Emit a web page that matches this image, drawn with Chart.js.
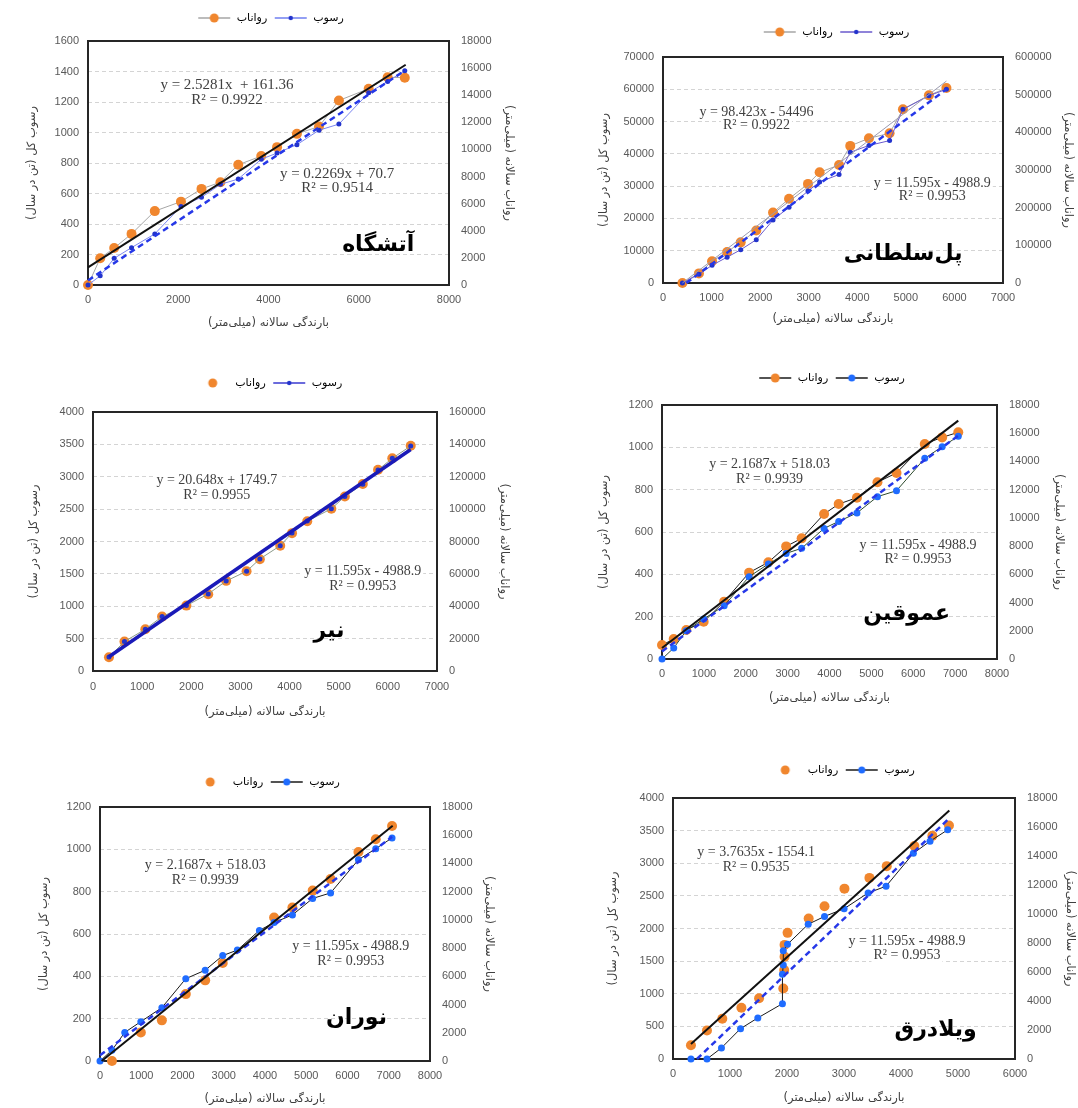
<!DOCTYPE html>
<html>
<head>
<meta charset="utf-8">
<script src="https://cdn.jsdelivr.net/npm/chart.js@4.4.1/dist/chart.umd.min.js"></script>
<style>
  body { margin: 0; background: #fff; width: 1078px; height: 1108px; position: relative; overflow: hidden; }
  canvas { position: absolute; }
</style>
</head>
<body>
<script>
// ---- data ----
// آتشگاه
const rainAtashgah = [0, 270, 580, 965, 1480, 2060, 2515, 2935, 3330, 3840, 4190, 4630, 5120, 5560, 6220, 6640, 7020];
const runoffAtashgah = [0, 1970, 2730, 3770, 5450, 6150, 7090, 7580, 8870, 9510, 10170, 11150, 11690, 13610, 14480, 15330, 15290];
const sedimentAtashgah = [0, 60, 175, 245, 335, 515, 575, 660, 695, 825, 865, 920, 1015, 1055, 1260, 1335, 1405];
const runoffTrendAtashgahX = [0, 7040];
const runoffTrendAtashgahY = [1300, 16250];
const sedimentTrendAtashgahX = [0, 7040];
const sedimentTrendAtashgahY = [30, 1410];

// پل‌سلطانی
const rainPol = [400, 740, 1010, 1320, 1600, 1920, 2265, 2595, 2985, 3225, 3625, 3855, 4240, 4665, 4940, 5475, 5835];
const runoffPol = [0, 25500, 57900, 82500, 107900, 139500, 186900, 223700, 263100, 293900, 313200, 364000, 384200, 397400, 461400, 498200, 517500];
const sedimentPol = [0, 2700, 5500, 8000, 10300, 13400, 19500, 23500, 28500, 31300, 33600, 40500, 42600, 44100, 53800, 58000, 60000];
const runoffTrendPolX = [400, 5835];
const runoffTrendPolY = [0, 536000];
const sedimentTrendPolX = [480, 5835];
const sedimentTrendPolY = [0, 60000];

// نیر
const rainNir = [325, 640, 1065, 1405, 1900, 2345, 2710, 3125, 3395, 3810, 4050, 4360, 4850, 5125, 5490, 5800, 6090, 6465];
const runoffNir = [8440, 18160, 25760, 33600, 40400, 47440, 55680, 61640, 69080, 77320, 85160, 92560, 100200, 107840, 115480, 124320, 131360, 139160];
const sedimentNir = [215, 455, 645, 840, 1010, 1190, 1390, 1540, 1730, 1935, 2130, 2315, 2505, 2695, 2885, 3105, 3285, 3475];
const sedimentTrendNirX = [325, 6465];
const sedimentTrendNirY = [220, 3420];

// عموقین
const rainAmughin = [0, 280, 580, 995, 1485, 2080, 2540, 2965, 3335, 3870, 4220, 4655, 5145, 5600, 6275, 6690, 7075];
const runoffAmughin = [990, 1410, 2055, 2640, 4065, 6120, 6855, 7980, 8550, 10275, 10980, 11430, 12525, 13185, 15240, 15705, 16065];
const sedimentAmughin = [0, 52, 134, 189, 252, 389, 449, 499, 523, 617, 650, 690, 767, 795, 948, 1003, 1052];
const runoffTrendAmughinX = [0, 7075];
const runoffTrendAmughinY = [780, 16890];
const sedimentTrendAmughinX = [0, 7075];
const sedimentTrendAmughinY = [36, 1055];

// نوران
const rainNuran = [0, 290, 600, 990, 1500, 2080, 2550, 2975, 3330, 3865, 4220, 4665, 5155, 5590, 6265, 6685, 7080];
const sedimentNuran = [0, 51, 135, 186, 252, 389, 429, 498, 524, 617, 654, 690, 768, 794, 951, 1003, 1054];
const rainNuranRunoff = [290, 990, 1500, 2080, 2550, 2975, 4220, 4665, 5155, 5590, 6265, 6685, 7080];
const runoffNuran = [0, 2025, 2880, 4740, 5715, 6945, 10170, 10875, 12075, 12900, 14805, 15720, 16650];
const runoffTrendNuranX = [40, 7095];
const runoffTrendNuranY = [0, 16665];
const sedimentTrendNuranX = [0, 7080];
const sedimentTrendNuranY = [27, 1059];

// ویلادرق
const rainViladareqRunoff = [315, 596, 865, 1200, 1510, 1935, 1951, 1957, 1957, 2010, 2380, 2658, 3008, 3446, 3750, 4235, 4550, 4842];
const runoffViladareq = [950, 1960, 2770, 3530, 4190, 4860, 6140, 7060, 7870, 8700, 9690, 10530, 11750, 12490, 13300, 14690, 15390, 16100];
const rainViladareqSediment = [315, 596, 850, 1185, 1488, 1920, 1920, 1935, 1935, 2009, 2372, 2658, 3002, 3423, 3738, 4217, 4509, 4819];
const sedimentViladareq = [0, 0, 170, 465, 630, 848, 1300, 1440, 1658, 1758, 2065, 2185, 2303, 2545, 2648, 3152, 3337, 3512];
const runoffTrendViladareqX = [315, 4848];
const runoffTrendViladareqY = [1040, 17145];
const sedimentTrendViladareqX = [420, 4830];
const sedimentTrendViladareqY = [0, 3676];

const seriesNames = ['رواناب', 'رسوب'];
const rlm = s => '\u200F' + s + '\u200F';
const leftTitle = rlm('رسوب کل (تن در سال)');
const rightTitle = rlm('رواناب سالانه (میلی\u200Cمتر)');
const bottomTitle = rlm('بارندگی سالانه (میلی\u200Cمتر)');

const ORANGE = '#F0862E';
const pts = (xs, ys) => xs.map((x, i) => ({ x: x, y: ys[i] }));

function legendIcon(lineColor, dotColor, r) {
  const c = document.createElement('canvas');
  c.width = 34; c.height = 12;
  const g = c.getContext('2d');
  if (lineColor) {
    g.strokeStyle = lineColor; g.lineWidth = 1.5;
    g.beginPath(); g.moveTo(1, 6); g.lineTo(33, 6); g.stroke();
  }
  g.fillStyle = dotColor;
  g.beginPath(); g.arc(17, 6, r, 0, Math.PI * 2); g.fill();
  return c;
}

// chart frame + equation texts under the data, station name on top
const decor = {
  id: 'decor',
  afterInit(chart, args, opts) {
    const lg = chart.legend;
    if (lg) {
      const f = lg.fit.bind(lg);
      lg.fit = function () { f(); this.height = opts.legendHeight; };
    }
  },
  beforeDatasetsDraw(chart, args, opts) {
    const a = chart.chartArea, ctx = chart.ctx;
    ctx.save();
    ctx.strokeStyle = '#262626'; ctx.lineWidth = 2;
    ctx.strokeRect(a.left, a.top, a.right - a.left, a.bottom - a.top);
    ctx.font = opts.eqFont;
    ctx.textAlign = 'center'; ctx.textBaseline = 'middle';
    opts.eq.forEach(e => {
      const x = a.left + e[1] * (a.right - a.left), y = a.top + e[2] * (a.bottom - a.top);
      const w = ctx.measureText(e[0]).width;
      ctx.fillStyle = '#fff';
      ctx.fillRect(x - w / 2 - 2, y - 8, w + 4, 16);
      ctx.fillStyle = '#404040';
      ctx.fillText(e[0], x, y);
    });
    ctx.restore();
  },
  afterDraw(chart, args, opts) {
    const a = chart.chartArea, ctx = chart.ctx;
    ctx.save();
    ctx.font = 'bold 22px "DejaVu Sans"';
    ctx.fillStyle = '#000';
    ctx.textAlign = 'center'; ctx.textBaseline = 'middle';
    ctx.fillText(opts.name, a.left + opts.namePos[0] * (a.right - a.left), a.top + opts.namePos[1] * (a.bottom - a.top));
    ctx.restore();
  }
};

function makePanel(p) {
  const m = p.margin;
  const cv = document.createElement('canvas');
  const w = p.area.r - p.area.l + m.left + m.right;
  const h = p.area.b - p.area.t + m.top + m.bottom;
  cv.width = w; cv.height = h;
  cv.style.left = (p.area.l - m.left) + 'px';
  cv.style.top = (p.area.t - m.top) + 'px';
  document.body.appendChild(cv);

  const tickFont = { family: 'Liberation Sans', size: 11 };
  const titleFont = { family: 'DejaVu Sans', size: 11.5 };
  const icons = p.legendIcons;

  new Chart(cv, {
    type: 'scatter',
    data: { datasets: p.datasets },
    options: {
      responsive: false,
      animation: false,
      devicePixelRatio: 1,
      layout: { padding: 0 },
      plugins: {
        tooltip: { enabled: false },
        legend: {
          position: 'top',
          labels: {
            usePointStyle: true,
            pointStyleWidth: 34,
            padding: 6.5,
            font: { family: 'DejaVu Sans', size: 11 },
            color: '#595959',
            generateLabels: () => seriesNames.map((t, i) => ({
              text: t, pointStyle: icons[i], fillStyle: 'transparent',
              strokeStyle: 'transparent', lineWidth: 0, hidden: false, datasetIndex: i
            }))
          }
        },
        decor: { legendHeight: m.top, eq: p.eq, eqFont: p.eqFont || '14px "Liberation Serif"', name: p.name, namePos: p.namePos }
      },
      scales: {
        x: {
          type: 'linear', position: 'bottom', min: 0, max: p.x[0],
          afterFit: s => { s.height = m.bottom; },
          grid: { display: false, drawTicks: false },
          border: { display: false },
          ticks: { stepSize: p.x[1], padding: p.xTickPad || 8, color: '#595959', font: tickFont, maxRotation: 0, autoSkip: false, callback: v => String(v) },
          title: { display: true, text: bottomTitle, color: '#404040', font: titleFont, padding: { top: 0, bottom: 1 } }
        },
        y: {
          type: 'linear', position: 'left', min: 0, max: p.y[0],
          afterFit: s => { s.width = m.left; },
          grid: { color: '#d4d4d4', drawTicks: false },
          border: { display: false, dash: [4, 3] },
          ticks: { stepSize: p.y[1], padding: 9, color: '#595959', font: tickFont, callback: v => String(v) },
          title: { display: true, text: leftTitle, color: '#404040', font: titleFont, padding: { top: 1, bottom: 0 } }
        },
        y1: {
          type: 'linear', position: 'right', min: 0, max: p.y1[0],
          afterFit: s => { s.width = m.right; },
          grid: { display: false, drawTicks: false },
          border: { display: false },
          ticks: { stepSize: p.y1[1], padding: 12, color: '#595959', font: tickFont, callback: v => String(v) },
          title: { display: true, text: rightTitle, color: '#404040', font: titleFont, padding: { top: 1, bottom: 0 } }
        }
      }
    },
    plugins: [decor]
  });
}

// dataset helpers
const runoffSet = (xs, ys, line) => ({
  data: pts(xs, ys), yAxisID: 'y1', showLine: !!line, borderColor: line || ORANGE, borderWidth: 1,
  pointRadius: 5, pointBackgroundColor: ORANGE, pointBorderColor: ORANGE, pointBorderWidth: 0, clip: false, order: 3
});
const sedimentSet = (xs, ys, dot, r, line) => ({
  data: pts(xs, ys), yAxisID: 'y', showLine: !!line, borderColor: line || dot, borderWidth: 1,
  pointRadius: r, pointBackgroundColor: dot, pointBorderColor: dot, pointBorderWidth: 0, clip: false, order: 2
});
const trendSet = (xs, ys, axis, color, width, dash) => ({
  data: pts(xs, ys), yAxisID: axis, showLine: true, borderColor: color, borderWidth: width,
  borderDash: dash || [], pointRadius: 0, clip: false, order: 1
});

const DASH_BLUE = '#2638e8';
const DOT_BLUE = '#1f6cff';
const dashed = [6, 4];

const panels = [
  {
    name: 'آتشگاه', area: { l: 88, t: 41, r: 449, b: 285 }, margin: { left: 64, right: 68, top: 35, bottom: 46 },
    x: [8000, 2000], y: [1600, 200], y1: [18000, 2000], eqFont: '15px "Liberation Serif"',
    legendIcons: [legendIcon('#a6a6a6', ORANGE, 4.5), legendIcon('#6f7ff0', '#2233cc', 2.2)],
    datasets: [
      runoffSet(rainAtashgah, runoffAtashgah, '#a6a6a6'),
      sedimentSet(rainAtashgah, sedimentAtashgah, '#2233cc', 2.5, '#7b86f0'),
      trendSet(runoffTrendAtashgahX, runoffTrendAtashgahY, 'y1', '#111', 2),
      trendSet(sedimentTrendAtashgahX, sedimentTrendAtashgahY, 'y', DASH_BLUE, 2.5, dashed)
    ],
    eq: [['y = 2.5281x  + 161.36', 0.385, 0.182], ['R² = 0.9922', 0.385, 0.244], ['y = 0.2269x + 70.7', 0.69, 0.544], ['R² = 0.9514', 0.69, 0.603]],
    namePos: [0.804, 0.839]
  },
  {
    name: 'پل\u200Cسلطانی', area: { l: 663, t: 57, r: 1003, b: 283 }, margin: { left: 67, right: 73, top: 37, bottom: 44 },
    x: [7000, 1000], y: [70000, 10000], y1: [600000, 100000],
    legendIcons: [legendIcon('#a6a6a6', ORANGE, 4.5), legendIcon('#6a5acd', '#2233cc', 2.2)],
    datasets: [
      runoffSet(rainPol, runoffPol, '#a6a6a6'),
      sedimentSet(rainPol, sedimentPol, '#2233cc', 2.5, '#6a5acd'),
      trendSet(runoffTrendPolX, runoffTrendPolY, 'y1', '#9a9ab0', 1),
      trendSet(sedimentTrendPolX, sedimentTrendPolY, 'y', DASH_BLUE, 2.5, dashed)
    ],
    eq: [['y = 98.423x - 54496', 0.275, 0.243], ['R² = 0.9922', 0.275, 0.304], ['y = 11.595x - 4988.9', 0.792, 0.557], ['R² = 0.9953', 0.792, 0.618]],
    namePos: [0.706, 0.874]
  },
  {
    name: 'نیر', area: { l: 93, t: 412, r: 437, b: 671 }, margin: { left: 67, right: 75, top: 41, bottom: 49 },
    x: [7000, 1000], y: [4000, 500], y1: [160000, 20000], xTickPad: 9,
    legendIcons: [legendIcon(null, ORANGE, 4.5), legendIcon('#3a3ad0', '#2233cc', 2.2)],
    datasets: [
      runoffSet(rainNir, runoffNir, null),
      sedimentSet(rainNir, sedimentNir, '#2233cc', 2.5, '#8a9a8a'),
      trendSet(sedimentTrendNirX, sedimentTrendNirY, 'y', '#1a1ab8', 3.5)
    ],
    eq: [['y = 20.648x + 1749.7', 0.36, 0.262], ['R² = 0.9955', 0.36, 0.323], ['y = 11.595x - 4988.9', 0.784, 0.616], ['R² = 0.9953', 0.784, 0.674]],
    namePos: [0.686, 0.848]
  },
  {
    name: 'عموقین', area: { l: 662, t: 405, r: 997, b: 659 }, margin: { left: 66, right: 70, top: 39, bottom: 47 },
    x: [8000, 1000], y: [1200, 200], y1: [18000, 2000],
    legendIcons: [legendIcon('#1a1a1a', ORANGE, 4.5), legendIcon('#1a1a1a', DOT_BLUE, 3.5)],
    datasets: [
      runoffSet(rainAmughin, runoffAmughin, '#1a1a1a'),
      sedimentSet(rainAmughin, sedimentAmughin, DOT_BLUE, 3.5, '#2d4a2d'),
      trendSet(runoffTrendAmughinX, runoffTrendAmughinY, 'y1', '#111', 2),
      trendSet(sedimentTrendAmughinX, sedimentTrendAmughinY, 'y', DASH_BLUE, 2.5, dashed)
    ],
    eq: [['y = 2.1687x + 518.03', 0.321, 0.232], ['R² = 0.9939', 0.321, 0.291], ['y = 11.595x - 4988.9', 0.764, 0.551], ['R² = 0.9953', 0.764, 0.609]],
    namePos: [0.73, 0.823]
  },
  {
    name: 'نوران', area: { l: 100, t: 807, r: 430, b: 1061 }, margin: { left: 64, right: 67, top: 37, bottom: 46 },
    x: [8000, 1000], y: [1200, 200], y1: [18000, 2000],
    legendIcons: [legendIcon(null, ORANGE, 4.5), legendIcon('#1a1a1a', DOT_BLUE, 3.5)],
    datasets: [
      runoffSet(rainNuranRunoff, runoffNuran, null),
      sedimentSet(rainNuran, sedimentNuran, DOT_BLUE, 3.5, '#1a1a1a'),
      trendSet(runoffTrendNuranX, runoffTrendNuranY, 'y1', '#111', 2),
      trendSet(sedimentTrendNuranX, sedimentTrendNuranY, 'y', DASH_BLUE, 2.5, dashed)
    ],
    eq: [['y = 2.1687x + 518.03', 0.319, 0.23], ['R² = 0.9939', 0.319, 0.287], ['y = 11.595x - 4988.9', 0.76, 0.548], ['R² = 0.9953', 0.76, 0.607]],
    namePos: [0.777, 0.832]
  },
  {
    name: 'ویلادرق', area: { l: 673, t: 798, r: 1015, b: 1059 }, margin: { left: 68, right: 63, top: 40, bottom: 47 },
    x: [6000, 1000], y: [4000, 500], y1: [18000, 2000],
    legendIcons: [legendIcon(null, ORANGE, 4.5), legendIcon('#1a1a1a', DOT_BLUE, 3.5)],
    datasets: [
      runoffSet(rainViladareqRunoff, runoffViladareq, null),
      sedimentSet(rainViladareqSediment, sedimentViladareq, DOT_BLUE, 3.5, '#1a1a1a'),
      trendSet(runoffTrendViladareqX, runoffTrendViladareqY, 'y1', '#111', 2),
      trendSet(sedimentTrendViladareqX, sedimentTrendViladareqY, 'y', DASH_BLUE, 2.5, dashed)
    ],
    eq: [['y = 3.7635x - 1554.1', 0.243, 0.21], ['R² = 0.9535', 0.243, 0.267], ['y = 11.595x - 4988.9', 0.684, 0.55], ['R² = 0.9953', 0.684, 0.604]],
    namePos: [0.768, 0.891]
  }
];

panels.forEach(makePanel);
</script>
</body>
</html>
